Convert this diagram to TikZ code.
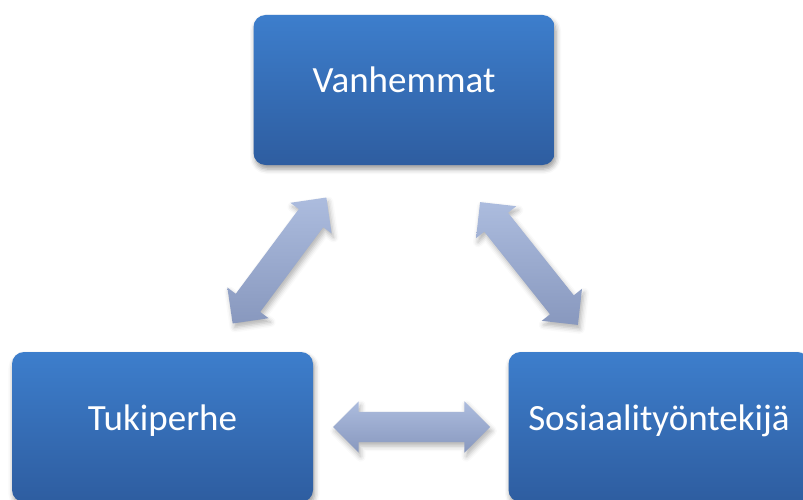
\documentclass[tikz,border=0pt]{standalone}
\usepackage{fontspec}
\setmainfont{Carlito}
\usetikzlibrary{shapes.arrows,shadows.blur,calc}
\definecolor{boxtop}{RGB}{61,126,204}
\definecolor{boxbot}{RGB}{46,93,160}
\definecolor{arrtop}{RGB}{172,188,222}
\definecolor{arrbot}{RGB}{136,152,190}
\begin{document}
\begin{tikzpicture}[x=1pt,y=1pt,
  box/.style={rectangle, rounded corners=12pt, minimum width=301pt, minimum height=150pt,
    inner sep=0pt, top color=boxtop, bottom color=boxbot, draw=none, text=white,
    font=\fontsize{37}{44}\selectfont, text height=20pt, text depth=14pt,
    blur shadow={shadow xshift=1.5pt, shadow yshift=-4pt, shadow blur radius=5pt, shadow opacity=40}},
  fat/.style={double arrow, double arrow head extend=10.5pt, minimum width=51pt,
    minimum height=157pt, inner sep=15pt, top color=arrtop, bottom color=arrbot, draw=none,
    blur shadow={shadow xshift=2pt, shadow yshift=-4pt, shadow blur radius=5pt, shadow opacity=30}}]
  \path[use as bounding box] (0,0) rectangle (803,-500);
  \clip (0,0) rectangle (803,-500);
  \node[box] (par) at (404,-90) {Vanhemmat};
  \node[box] (tuki) at (162.5,-427) {Tukiperhe};
  \node[box] (sos) at (659,-427) {Sosiaalityöntekijä};
  \coordinate (l1) at (233,-323);
  \coordinate (l2) at (326,-198);
  \coordinate (r1) at (480,-202);
  \coordinate (r2) at (578,-325);
  \coordinate (h1) at (333,-427);
  \coordinate (h2) at (490,-427);
  \node[fat, rotate=53.35] (aleft) at ($(l1)!0.5!(l2)$) {};
  \node[fat, rotate=-51.46] (aright) at ($(r1)!0.5!(r2)$) {};
  \node[fat] (abottom) at ($(h1)!0.5!(h2)$) {};
\end{tikzpicture}
\end{document}
